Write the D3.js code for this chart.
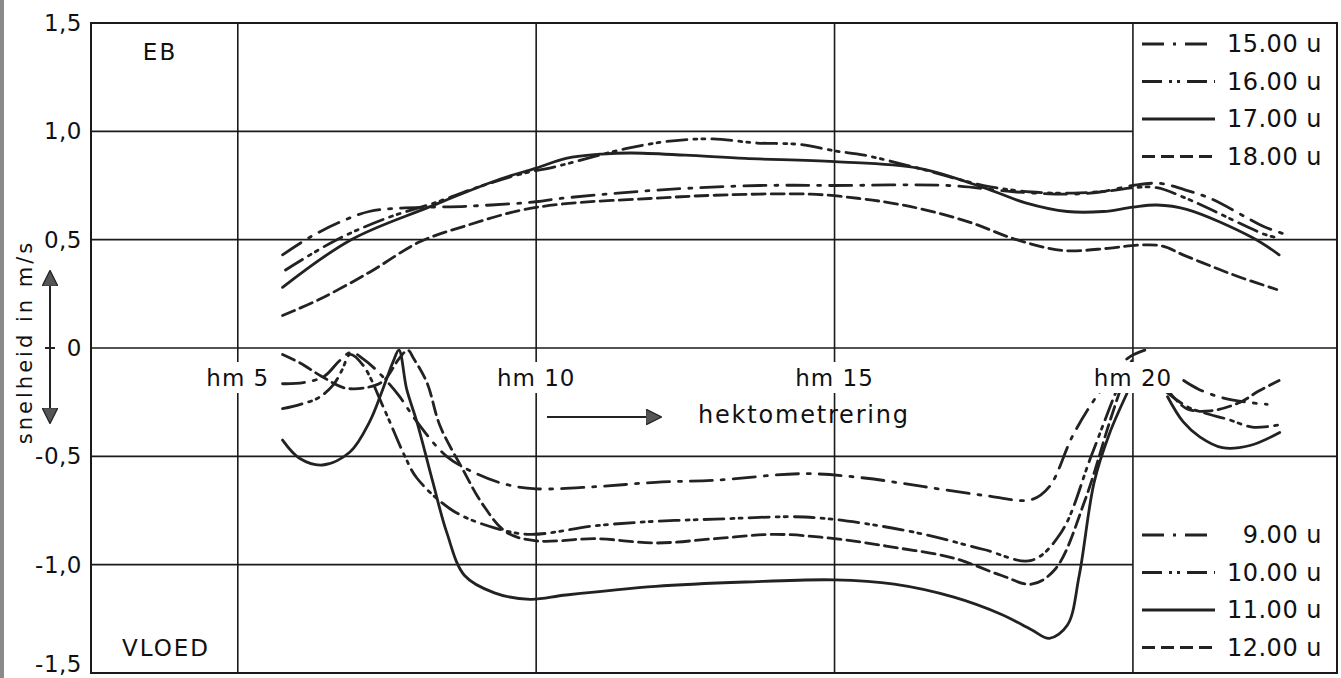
<!DOCTYPE html>
<html>
<head>
<meta charset="utf-8">
<script src="https://cdn.jsdelivr.net/npm/d3@7"></script>
<style>
  body { margin: 0; background: #fff; }
  svg { display: block; }
  text { font-family: "DejaVu Sans", sans-serif; fill: #111; }
</style>
</head>
<body>
<svg width="1341" height="678"></svg>
<script>
// ---- data (hm, m/s) ----
var yTicks = [1.5, 1.0, 0.5, 0, -0.5, -1.0, -1.5];
var yTickLabels = ["1,5", "1,0", "0,5", "0", "-0,5", "-1,0", "-1,5"];
var hmTicks = [5, 10, 15, 20];

// eb (positive)
var eb1500 = [[5.75,0.43],[6.2,0.51],[6.7,0.58],[7.2,0.63],[7.7,0.645],[8.9,0.655],[10.0,0.675],[10.4,0.69],[12.1,0.73],[13.75,0.75],[15.0,0.75],[16.9,0.75],[18.05,0.72],[18.9,0.71],[19.45,0.72],[20.0,0.75],[20.45,0.76],[20.87,0.73],[21.3,0.69],[22.2,0.56],[22.55,0.525]];
var eb1600 = [[5.8,0.36],[6.66,0.5],[7.5,0.6],[8.3,0.67],[9.0,0.74],[9.7,0.80],[10.37,0.84],[11.5,0.92],[12.24,0.955],[12.96,0.965],[13.7,0.946],[14.4,0.94],[15.0,0.91],[15.5,0.89],[16.4,0.83],[17.5,0.75],[18.3,0.72],[19.0,0.715],[19.6,0.725],[20.0,0.74],[20.4,0.74],[20.9,0.69],[21.3,0.64],[22.2,0.525],[22.4,0.51]];
var eb1700 = [[5.75,0.28],[6.9,0.50],[8.2,0.65],[9.4,0.78],[10.0,0.83],[10.5,0.875],[11.1,0.895],[11.6,0.90],[12.5,0.89],[13.5,0.875],[15.0,0.86],[16.4,0.83],[17.5,0.74],[18.2,0.67],[18.9,0.63],[19.5,0.63],[20.0,0.65],[20.4,0.66],[20.9,0.64],[22.0,0.51],[22.45,0.43]];
var eb1800 = [[5.75,0.15],[6.37,0.225],[7.21,0.35],[8.05,0.49],[8.89,0.57],[9.73,0.635],[10.45,0.665],[11.9,0.69],[13.0,0.705],[14.6,0.71],[15.42,0.69],[15.93,0.67],[16.48,0.64],[17.27,0.58],[18.05,0.50],[18.83,0.45],[19.58,0.46],[20.1,0.475],[20.5,0.47],[20.84,0.43],[21.29,0.38],[21.76,0.33],[22.41,0.27]];

// vloed (negative), each series in segments
var vl0900 = [[[5.75,-0.165],[6.1,-0.16],[6.45,-0.13],[6.7,-0.06],[6.9,-0.02],[7.1,-0.05],[7.35,-0.11],[7.7,-0.22],[8.0,-0.34],[8.5,-0.5],[9.0,-0.58],[9.5,-0.63],[10.0,-0.65],[11,-0.64],[12,-0.62],[13,-0.61],[14.5,-0.58],[15.5,-0.6],[16.5,-0.64],[17.5,-0.68],[18.3,-0.70],[18.6,-0.64],[19.0,-0.4],[19.45,-0.2],[19.9,-0.05],[20.2,-0.01]],
              [[20.85,-0.15],[21.1,-0.19],[21.5,-0.23],[21.9,-0.25],[22.25,-0.26]]];
var vl1000 = [[[5.75,-0.28],[6.05,-0.26],[6.35,-0.23],[6.6,-0.17],[6.75,-0.1],[6.88,-0.03],[7.1,-0.08],[7.45,-0.28],[7.8,-0.5],[8.0,-0.6],[8.6,-0.75],[9.3,-0.83],[9.9,-0.86],[11,-0.82],[12,-0.80],[13,-0.79],[14.5,-0.78],[15.5,-0.81],[16.5,-0.86],[17.5,-0.93],[18.3,-0.98],[18.8,-0.85],[19.3,-0.5],[19.8,-0.15],[20.0,-0.05]],
              [[20.55,-0.2],[20.9,-0.27],[21.2,-0.3],[21.6,-0.33],[22.0,-0.365],[22.45,-0.355]]];
var vl1100 = [[[5.75,-0.425],[6.04,-0.51],[6.42,-0.54],[6.88,-0.48],[7.21,-0.34],[7.43,-0.19],[7.6,-0.065],[7.7,-0.01],[7.83,-0.19],[8.0,-0.34],[8.27,-0.62],[8.5,-0.85],[8.8,-1.05],[9.3,-1.13],[9.9,-1.16],[10.5,-1.14],[12,-1.10],[13.5,-1.08],[15,-1.07],[16,-1.09],[17,-1.15],[17.8,-1.23],[18.3,-1.30],[18.6,-1.34],[18.9,-1.28],[19.1,-1.05],[19.35,-0.62],[19.6,-0.4],[19.9,-0.21]],
              [[20.58,-0.225],[20.84,-0.34],[21.12,-0.41],[21.5,-0.46],[21.96,-0.45],[22.46,-0.39]]];
var vl1200 = [[[5.75,-0.03],[6.05,-0.07],[6.4,-0.13],[6.8,-0.185],[7.2,-0.18],[7.45,-0.15],[7.7,-0.05],[7.85,-0.01],[7.95,-0.05],[8.17,-0.16],[8.39,-0.36],[8.77,-0.56],[9.1,-0.72],[9.5,-0.85],[10,-0.89],[11,-0.88],[12,-0.90],[13,-0.88],[14,-0.86],[15,-0.88],[16,-0.92],[17,-0.97],[17.8,-1.05],[18.3,-1.09],[18.7,-1.02],[19.2,-0.7],[19.6,-0.35],[19.9,-0.1]],
              [[20.6,-0.2],[20.9,-0.28],[21.3,-0.29],[21.8,-0.25],[22.1,-0.2],[22.45,-0.15]]];

var legendTop = ["15.00 u", "16.00 u", "17.00 u", "18.00 u"];
var legendBottom = ["9.00 u", "10.00 u", "11.00 u", "12.00 u"];
var dashes = ["22,9,3,9", "20,7,3,5,3,7", null, "13,6"];

var svg = d3.select("svg");
var x = d3.scaleLinear().domain([2.54, 23.42]).range([91, 1337]);
var y = d3.scaleLinear().domain([-1.5, 1.5]).range([673, 23]);

svg.append("rect").attr("width", 1341).attr("height", 678).attr("fill", "#fff");
// scanned edge
svg.append("rect").attr("x", 0).attr("y", 0).attr("width", 4).attr("height", 678).attr("fill", "#8a8a8a");

var grid = svg.append("g").attr("stroke", "#1a1a1a").attr("stroke-width", 1.6);
// horizontal grid (the 1,0 and -1,0 lines stop at the legend)
yTicks.slice(1, -1).forEach(function (v) {
  var x2 = (Math.abs(v) === 1) ? x(20) : x.range()[1];
  grid.append("line").attr("x1", x.range()[0]).attr("x2", x2).attr("y1", y(v)).attr("y2", y(v));
});
hmTicks.forEach(function (h) {
  grid.append("line").attr("x1", x(h)).attr("x2", x(h)).attr("y1", y(1.5)).attr("y2", y(-1.5));
});
svg.append("rect").attr("x", x.range()[0]).attr("y", y(1.5))
  .attr("width", x.range()[1] - x.range()[0]).attr("height", y(-1.5) - y(1.5))
  .attr("fill", "none").attr("stroke", "#1a1a1a").attr("stroke-width", 2);

// curves
var line = d3.line().x(function (d) { return x(d[0]); }).y(function (d) { return y(d[1]); })
  .curve(d3.curveCatmullRom.alpha(0.5));
var curves = svg.append("g").attr("fill", "none").attr("stroke", "#222").attr("stroke-width", 2.8)
  .attr("stroke-linecap", "round");
[eb1500, eb1600, eb1700, eb1800].forEach(function (s, i) {
  curves.append("path").attr("d", line(s)).attr("stroke-dasharray", dashes[i]);
});
[vl0900, vl1000, vl1100, vl1200].forEach(function (s, i) {
  s.forEach(function (seg) {
    curves.append("path").attr("d", line(seg)).attr("stroke-dasharray", dashes[i]);
  });
});

// hm labels on the zero line, with white background
var hmLab = svg.append("g");
hmTicks.forEach(function (h) {
  var t = hmLab.append("text").attr("x", x(h)).attr("y", 378).attr("text-anchor", "middle")
    .attr("dominant-baseline", "central").attr("font-size", 23).attr("letter-spacing", 1)
    .text("hm " + h);
  var b = t.node().getBBox();
  hmLab.insert("rect", "text").attr("x", b.x - 3).attr("y", 362).attr("width", b.width + 6)
    .attr("height", 31).attr("fill", "#fff");
});

// y tick labels
svg.append("g").selectAll("text").data(yTicks).enter().append("text")
  .attr("x", 82).attr("y", function (d, i) { return y(d) - (i === yTicks.length - 1 ? 9 : 0); })
  .attr("text-anchor", "end").attr("dominant-baseline", "central")
  .attr("font-size", 23).attr("letter-spacing", 0.5)
  .text(function (d, i) { return yTickLabels[i]; });

svg.append("text").attr("x", 160).attr("y", 52).attr("text-anchor", "middle").attr("dominant-baseline", "central")
  .attr("font-size", 23).attr("letter-spacing", 2).text("EB");
svg.append("text").attr("x", 166).attr("y", 648).attr("text-anchor", "middle").attr("dominant-baseline", "central")
  .attr("font-size", 23).attr("letter-spacing", 2).text("VLOED");

// y axis title with double arrow
svg.append("text").attr("transform", "translate(25,342) rotate(-90)").attr("text-anchor", "middle")
  .attr("dominant-baseline", "central").attr("font-size", 21).attr("letter-spacing", 3)
  .text("snelheid in m/s");
var defs = svg.append("defs");
defs.append("marker").attr("id", "ah").attr("viewBox", "0 0 10 10").attr("refX", 9).attr("refY", 5)
  .attr("markerWidth", 16).attr("markerHeight", 16).attr("markerUnits", "userSpaceOnUse")
  .attr("orient", "auto-start-reverse")
  .append("path").attr("d", "M0,0 L10,5 L0,10 Z").attr("fill", "#555").attr("stroke", "#222").attr("stroke-width", 0.8);
svg.append("line").attr("x1", 50).attr("x2", 50).attr("y1", 272).attr("y2", 422)
  .attr("stroke", "#222").attr("stroke-width", 2)
  .attr("marker-start", "url(#ah)").attr("marker-end", "url(#ah)");
svg.append("line").attr("x1", 45).attr("x2", 55).attr("y1", y(0)).attr("y2", y(0)).attr("stroke", "#222").attr("stroke-width", 2);

// x direction arrow
svg.append("line").attr("x1", 547).attr("x2", 660).attr("y1", 417).attr("y2", 417)
  .attr("stroke", "#222").attr("stroke-width", 2).attr("marker-end", "url(#ah)");
svg.append("text").attr("x", 698).attr("y", 415).attr("dominant-baseline", "central")
  .attr("font-size", 24).attr("letter-spacing", 1.8).text("hektometrering");

// legends
function drawLegend(labels, y0) {
  var g = svg.append("g");
  labels.forEach(function (lab, i) {
    var yy = y0 + i * 37.5;
    g.append("line").attr("x1", 1142).attr("x2", 1215).attr("y1", yy).attr("y2", yy)
      .attr("stroke", "#222").attr("stroke-width", 2.8).attr("stroke-dasharray", dashes[i]);
    g.append("text").attr("x", 1322).attr("y", yy).attr("text-anchor", "end")
      .attr("dominant-baseline", "central").attr("font-size", 24).attr("letter-spacing", 0.5).text(lab);
  });
}
drawLegend(legendTop, 44);
drawLegend(legendBottom, 535);
</script>
</body>
</html>
